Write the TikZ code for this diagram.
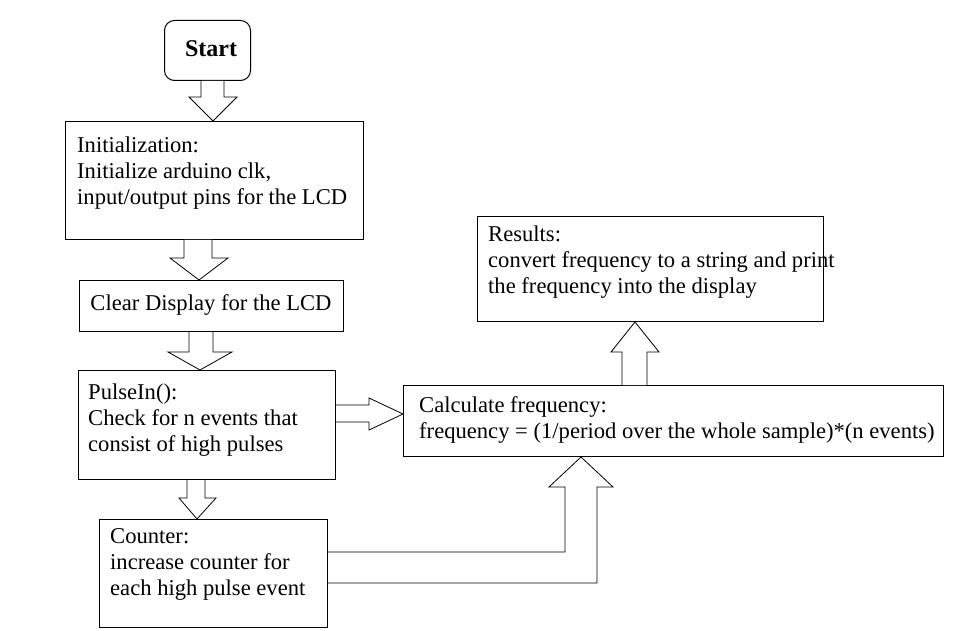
\documentclass[tikz,border=0pt]{standalone}
\usepackage{fontspec}
\setmainfont{Liberation Serif}
\usetikzlibrary{calc}

\tikzset{
  box/.style={draw, line width=1pt, anchor=north west, inner sep=0pt},
  txt/.style={anchor=north west, align=left, inner sep=0pt, font=\fontsize{22.6}{26}\selectfont},
  fat/.style={draw, line width=0.8pt, line join=miter, fill=white}
}

\begin{document}
\begin{tikzpicture}[x=1pt,y=-1pt]
\useasboundingbox (0,0) rectangle (975,631);

% boxes
\node[box, rounded corners=10pt, minimum width=86pt, minimum height=60pt] (start) at (164,20) {};
\node[font=\fontsize{24}{28}\selectfont\bfseries, inner sep=0pt] (startT) at (211,49) {Start};

\node[box, minimum width=298pt, minimum height=118pt] (init) at (65,121) {};
\node[txt] (initT) at (77,137) {Initialization:\\Initialize arduino clk,\\input/output pins for the LCD};

\node[box, minimum width=264pt, minimum height=51pt] (clear) at (79,280) {};
\node[txt, anchor=center] (clearT) at (211,305) {Clear Display for the LCD};

\node[box, minimum width=257pt, minimum height=109pt] (pulse) at (78,370) {};
\node[txt] (pulseT) at (88,384) {PulseIn():\\Check for n events that\\consist of high pulses};

\node[box, minimum width=228pt, minimum height=108pt] (counter) at (99,519) {};
\node[txt] (counterT) at (110,528) {Counter:\\increase counter for\\each high pulse event};

\node[box, minimum width=540pt, minimum height=71pt] (calc) at (403,385) {};
\node[txt] (calcT) at (419,396) {Calculate frequency:\\frequency = (1/period over the whole sample)*(n events)};

\node[box, minimum width=346pt, minimum height=105pt] (results) at (477,216) {};
\node[txt] (resultsT) at (488,226) {Results:\\convert frequency to a string and print\\the frequency into the display};

% block arrows
\draw[fat] (start.south -| 201,0) -- (201,97) -- (189,97) -- (init.north -| 213,0) -- (237,97) -- (224,97) -- (start.south -| 224,0);
\draw[fat] (init.south -| 184,0) -- (184,258) -- (170,258) -- (clear.north -| 199,0) -- (228,258) -- (212,258) -- (init.south -| 212,0);
\draw[fat] (clear.south -| 189,0) -- (189,352) -- (168,352) -- (pulse.north -| 200,0) -- (232,352) -- (213,352) -- (clear.south -| 213,0);
\draw[fat] (pulse.south -| 187,0) -- (187,498) -- (179,498) -- (counter.north -| 197,0) -- (216,498) -- (205,498) -- (pulse.south -| 205,0);
\draw[fat] (pulse.east |- 0,405) -- (369,405) -- (369,398) -- (calc.west |- 0,414) -- (369,430) -- (369,422) -- (pulse.east |- 0,422);
\draw[fat] (calc.north -| 622,0) -- (622,352) -- (611,352) -- (results.south -| 635,0) -- (659,352) -- (647,352) -- (calc.north -| 647,0);
\draw[fat] (counter.east |- 0,552) -- (565,552) -- (565,487) -- (549,487) -- (calc.south -| 581,0) -- (613,487) -- (597,487) -- (597,583) -- (counter.east |- 0,583);
\end{tikzpicture}
\end{document}
